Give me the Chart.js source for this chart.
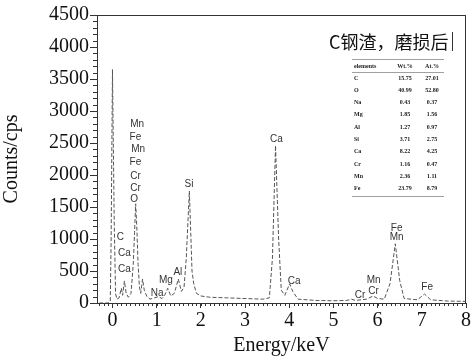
<!DOCTYPE html>
<html>
<head>
<meta charset="utf-8">
<script src="https://cdn.jsdelivr.net/npm/chart.js@4/dist/chart.umd.min.js"></script>
<style>
  html, body { margin: 0; padding: 0; background: #ffffff; }
  #wrap { width: 473px; height: 360px; }
</style>
</head>
<body>
<div id="wrap"><canvas id="eds-chart" width="473" height="360"></canvas></div>
<script>
// spectrum (keV, counts)
const energy = [-0.3, -0.1, -0.05, -0.03, 0.0, 0.04, 0.07, 0.1, 0.15, 0.2, 0.23, 0.27, 0.31, 0.36, 0.42, 0.47, 0.5, 0.525, 0.55, 0.58, 0.61, 0.64, 0.68, 0.72, 0.78, 0.85, 0.95, 1.04, 1.12, 1.18, 1.25, 1.32, 1.4, 1.49, 1.56, 1.62, 1.67, 1.74, 1.8, 1.84, 1.9, 2.0, 2.2, 2.6, 3.0, 3.4, 3.55, 3.62, 3.69, 3.76, 3.82, 3.9, 4.01, 4.08, 4.2, 4.6, 5.0, 5.3, 5.41, 5.5, 5.75, 5.9, 6.0, 6.15, 6.28, 6.4, 6.5, 6.6, 6.9, 7.06, 7.2, 7.6, 8.0];
const counts = [0, 0, 20, 1000, 3650, 1250, 150, 60, 80, 230, 120, 345, 150, 90, 150, 600, 1100, 1550, 1200, 600, 250, 150, 375, 200, 100, 60, 80, 100, 70, 120, 230, 110, 150, 375, 180, 250, 700, 1750, 500, 300, 150, 110, 90, 80, 70, 60, 80, 700, 2460, 1000, 200, 120, 300, 180, 60, 40, 35, 40, 60, 40, 60, 110, 70, 60, 300, 925, 350, 70, 50, 140, 50, 30, 25];

// peak labels (text, keV, counts where the label sits)
const peakNames = ['Mn', 'Fe', 'Mn', 'Fe', 'Cr', 'Cr', 'O', 'C', 'Ca', 'Ca', 'Na', 'Mg', 'Al', 'Si', 'Ca', 'Ca', 'Cr', 'Mn', 'Cr', 'Fe', 'Mn', 'Fe'];
const peakEnergy = [0.56, 0.52, 0.58, 0.52, 0.52, 0.52, 0.49, 0.18, 0.27, 0.27, 1.01, 1.21, 1.48, 1.73, 3.71, 4.11, 5.6, 5.91, 5.91, 6.43, 6.43, 7.12];
const peakCounts = [2790, 2590, 2400, 2195, 1975, 1800, 1615, 1020, 770, 530, 155, 360, 485, 1850, 2555, 345, 125, 360, 190, 1175, 1020, 250];

// composition table
const tableTitle = 'C钢渣，磨损后';
const tableHead = ['elements', 'Wt.%', 'At.%'];
const tableElements = ['C', 'O', 'Na', 'Mg', 'Al', 'Si', 'Ca', 'Cr', 'Mn', 'Fe'];
const tableWt = ['15.75', '40.99', '0.43', '1.85', '1.27', '3.71', '8.22', '1.16', '2.36', '23.79'];
const tableAt = ['27.01', '52.80', '0.37', '1.56', '0.97', '2.75', '4.25', '0.47', '1.11', '8.79'];

const xTicks = [0, 1, 2, 3, 4, 5, 6, 7, 8];

const serif = '"Liberation Serif", "Times New Roman", serif';
const sans = '"Liberation Sans", Arial, sans-serif';

const framePlugin = {
  id: 'frame',
  afterDraw(chart) {
    const { ctx, chartArea: a, scales } = chart;
    const x = scales.x, y = scales.y;
    ctx.save();
    ctx.strokeStyle = '#333';
    ctx.lineWidth = 1;
    ctx.strokeRect(a.left + 0.5, a.top + 0.5, a.right - a.left - 1, a.bottom - a.top);

    // minor ticks
    ctx.beginPath();
    for (let v = -3; v <= 80; v++) {
      const px = Math.round(x.getPixelForValue(v / 10)) + 0.5;
      if (px < a.left || px > a.right) continue;
      ctx.moveTo(px, a.bottom);
      ctx.lineTo(px, a.bottom + 3);
    }
    for (let v = 0; v <= 4500; v += 100) {
      const py = Math.round(y.getPixelForValue(v)) + 0.5;
      ctx.moveTo(a.left, py);
      ctx.lineTo(a.left - 4, py);
    }
    ctx.stroke();

    // peak labels
    ctx.fillStyle = '#333';
    ctx.font = '10px ' + sans;
    ctx.textAlign = 'center';
    ctx.textBaseline = 'middle';
    peakNames.forEach((n, i) => {
      ctx.fillText(n, x.getPixelForValue(peakEnergy[i]), y.getPixelForValue(peakCounts[i]));
    });

    // inset title
    ctx.fillStyle = '#111';
    ctx.font = '18px "Noto Sans CJK SC", sans-serif';
    ctx.textAlign = 'left';
    ctx.fillText(tableTitle, 329, 42);
    ctx.beginPath();
    ctx.moveTo(452.5, 32);
    ctx.lineTo(452.5, 51);
    ctx.stroke();

    // table
    ctx.strokeStyle = '#888';
    ctx.lineWidth = 0.8;
    ctx.beginPath();
    [59, 72, 196].forEach((ry) => {
      ctx.moveTo(352, ry + 0.5);
      ctx.lineTo(444, ry + 0.5);
    });
    ctx.stroke();
    ctx.fillStyle = '#222';
    ctx.font = 'bold 6px ' + serif;
    ctx.textAlign = 'left';
    ctx.fillText(tableHead[0], 354, 66);
    ctx.textAlign = 'center';
    ctx.fillText(tableHead[1], 405, 66);
    ctx.fillText(tableHead[2], 432, 66);
    tableElements.forEach((el, i) => {
      const ry = 78 + i * 12.3;
      ctx.textAlign = 'left';
      ctx.fillText(el, 354, ry);
      ctx.textAlign = 'center';
      ctx.fillText(tableWt[i], 405, ry);
      ctx.fillText(tableAt[i], 432, ry);
    });
    ctx.restore();
  },
};

const ctx = document.getElementById('eds-chart');
new Chart(ctx, {
  type: 'scatter',
  data: {
    datasets: [
      {
        label: 'EDS',
        data: energy.map((e, i) => ({ x: e, y: counts[i] })),
        showLine: true,
        borderColor: '#555',
        borderWidth: 1,
        borderDash: [4, 2],
        pointRadius: 0,
        tension: 0,
      },
    ],
  },
  options: {
    responsive: false,
    animation: false,
    layout: { padding: { top: 15, right: 7, left: 0, bottom: 0 } },
    plugins: {
      legend: { display: false },
      tooltip: { enabled: false },
    },
    scales: {
      x: {
        type: 'linear',
        min: -0.35,
        max: 8,
        afterBuildTicks: (s) => { s.ticks = xTicks.map((v) => ({ value: v })); },
        afterFit: (s) => { s.height = 57; },
        grid: { drawOnChartArea: false, tickLength: 5, color: '#333' },
        border: { color: '#333' },
        ticks: { color: '#111', font: { family: serif, size: 20 }, padding: 1, maxRotation: 0, callback: (v) => String(v) },
        title: { display: true, text: 'Energy/keV', color: '#111', font: { family: serif, size: 20 }, padding: { top: 0, bottom: 2 } },
      },
      y: {
        min: 0,
        max: 4500,
        afterFit: (s) => { s.width = 97; },
        grid: { drawOnChartArea: false, tickLength: 7, color: '#333' },
        border: { color: '#333' },
        ticks: { stepSize: 500, color: '#111', font: { family: serif, size: 20 }, padding: 1, callback: (v) => String(v) },
        title: { display: true, text: 'Counts/cps', color: '#111', font: { family: serif, size: 20 }, padding: { top: 0, bottom: 4 } },
      },
    },
  },
  plugins: [framePlugin],
});
</script>
</body>
</html>
